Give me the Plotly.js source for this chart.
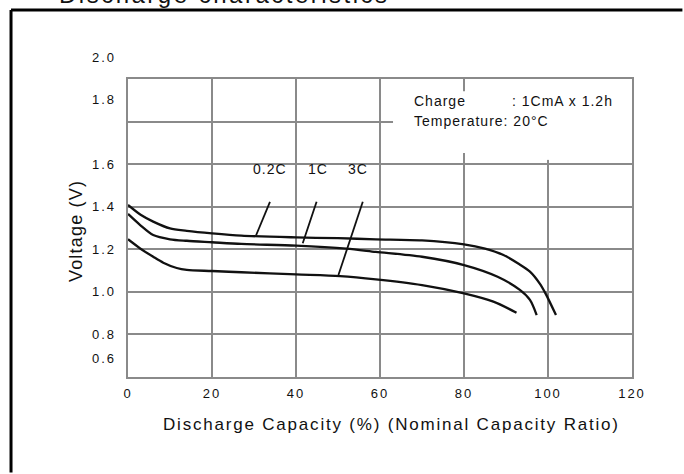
<!DOCTYPE html>
<html>
<head>
<meta charset="utf-8">
<script src="https://cdn.plot.ly/plotly-3.0.1.min.js"></script>
<style>
  html, body { margin: 0; padding: 0; background: #fff; overflow: hidden; }
  #chart { width: 684px; height: 474px; }
  text[style*="font-size: 24px"] { letter-spacing: 2.5px; }
  text[style*="font-size: 13px"] { letter-spacing: 2px; }
  text[style*="font-size: 14px"] { letter-spacing: 1px; }
  text[style*="font-size: 17px"] { letter-spacing: 1.8px; }
  text[style*="font-size: 18px"] { letter-spacing: 1.2px; }
</style>
</head>
<body>
<div id="chart"></div>
<script>
// ---- data ----
const capacity02C = [0, 3, 6, 10, 14, 20, 27, 40, 50, 59, 70, 80, 85, 89.4, 93, 95.7, 98, 99.4, 101.9];
const voltage02C  = [1.408, 1.362, 1.330, 1.298, 1.287, 1.275, 1.264, 1.256, 1.252, 1.247, 1.242, 1.223, 1.203, 1.173, 1.132, 1.095, 1.040, 0.993, 0.891];

const capacity1C = [0, 2.9, 6, 10, 14, 20, 27, 40, 52, 59, 70, 80, 88, 93.3, 95.7, 97.3];
const voltage1C  = [1.366, 1.314, 1.267, 1.247, 1.240, 1.233, 1.225, 1.217, 1.203, 1.188, 1.165, 1.126, 1.071, 1.009, 0.962, 0.891];

const capacity3C = [0, 2.9, 6, 8.4, 11.6, 14, 20, 27, 40, 50.5, 59, 70, 80, 87, 92.5];
const voltage3C  = [1.247, 1.204, 1.165, 1.137, 1.112, 1.103, 1.098, 1.092, 1.082, 1.074, 1.059, 1.032, 0.993, 0.954, 0.902];

const seriesNames = ['0.2C', '1C', '3C'];
// leader lines: [capacity at curve, capacity at label], [voltage at curve, voltage at label]
const leaderCapacity = [[30.5, 33.8], [41.6, 44.9], [50.1, 55.9]];
const leaderVoltage  = [[1.266, 1.423], [1.228, 1.423], [1.079, 1.423]];
const labelCapacity  = [33.8, 45.3, 54.8];
const labelVoltage   = 1.577;

const xTickValues = [0, 20, 40, 60, 80, 100, 120];
const xTickLabels = ['0', '20', '40', '60', '80', '100', '120'];
const yTickValues = [2.0, 1.8, 1.6, 1.4, 1.2, 1.0, 0.8, 0.6];
const yTickLabels = ['2.0', '1.8', '1.6', '1.4', '1.2', '1.0', '0.8', '0.6'];

const chartTitle  = 'Discharge characteristics';
const xTitle      = 'Discharge Capacity (%) (Nominal Capacity Ratio)';
const yTitle      = 'Voltage (V)';
const noteLabels  = ['Charge', ': 1CmA x 1.2h', 'Temperature: 20°C'];

// ---- styles / layout helpers ----
const FONT = 'Liberation Sans, Arial, sans-serif';
const GRID = '#8a8a8a';
const INK = '#111111';
// pixel nudges of the scanned y tick labels (layout quirk of the source)
const yTickShiftPx = [22, 22, 0, 0, 0, 0, 0, 19];

const curveX = [capacity02C, capacity1C, capacity3C];
const curveY = [voltage02C, voltage1C, voltage3C];

const traces = [];
for (let i = 0; i < 3; i++) {
  traces.push({
    type: 'scatter', mode: 'lines', name: seriesNames[i],
    x: curveX[i], y: curveY[i],
    line: { color: INK, width: 2.3, shape: 'spline', smoothing: 0.8 },
    hoverinfo: 'skip', showlegend: false
  });
}
for (let i = 0; i < 3; i++) {
  traces.push({
    type: 'scatter', mode: 'lines',
    x: leaderCapacity[i], y: leaderVoltage[i],
    line: { color: INK, width: 1.8 },
    hoverinfo: 'skip', showlegend: false
  });
}

const annotations = [];
// curve labels
for (let i = 0; i < 3; i++) {
  annotations.push({
    xref: 'x', yref: 'y', x: labelCapacity[i], y: labelVoltage,
    text: seriesNames[i], showarrow: false, xanchor: 'center', yanchor: 'middle',
    font: { family: FONT, size: 14, color: INK }
  });
}
// y tick labels (drawn through the y scale)
for (let i = 0; i < yTickValues.length; i++) {
  annotations.push({
    xref: 'paper', yref: 'y', x: -0.02, y: yTickValues[i], yshift: yTickShiftPx[i],
    text: yTickLabels[i], showarrow: false, xanchor: 'right', yanchor: 'middle',
    font: { family: FONT, size: 13, color: INK }
  });
}
// note box text
annotations.push({ xref: 'x', yref: 'y', x: 67.5, y: 1.896, text: noteLabels[0], showarrow: false,
  xanchor: 'left', yanchor: 'middle', font: { family: FONT, size: 14, color: INK } });
annotations.push({ xref: 'x', yref: 'y', x: 91.0, y: 1.896, text: noteLabels[1], showarrow: false,
  xanchor: 'left', yanchor: 'middle', font: { family: FONT, size: 14, color: INK } });
annotations.push({ xref: 'x', yref: 'y', x: 67.5, y: 1.802, text: noteLabels[2], showarrow: false,
  xanchor: 'left', yanchor: 'middle', font: { family: FONT, size: 14, color: INK } });
// axis titles
annotations.push({ xref: 'paper', yref: 'paper', x: -0.103, y: 0.49, text: yTitle, showarrow: false,
  textangle: -90, xanchor: 'center', yanchor: 'middle', font: { family: FONT, size: 18, color: INK } });
annotations.push({ xref: 'paper', yref: 'paper', x: 0.522, y: -0.161, text: xTitle, showarrow: false,
  xanchor: 'center', yanchor: 'middle', font: { family: FONT, size: 17, color: INK } });
// page title (partially cut at top, as in the scan)
annotations.push({ xref: 'paper', yref: 'paper', x: -0.226, y: 1.2315, text: '•', showarrow: false,
  xanchor: 'center', yanchor: 'bottom', font: { family: FONT, size: 24, color: INK } });
annotations.push({ xref: 'paper', yref: 'paper', x: -0.141, y: 1.2315, text: chartTitle, showarrow: false,
  xanchor: 'left', yanchor: 'bottom', font: { family: FONT, size: 24, color: INK } });

const shapes = [
  // outer black frame of the scanned figure: only top and left edges are inside the page
  { type: 'line', xref: 'paper', yref: 'paper', x0: -0.2321, x1: 1.1, y0: 1.2315, y1: 1.2315,
    line: { color: '#000', width: 3 }, layer: 'above' },
  { type: 'line', xref: 'paper', yref: 'paper', x0: -0.2321, x1: -0.2321, y0: -0.3205, y1: 1.2315,
    line: { color: '#000', width: 3 }, layer: 'above' },
  // white note box hiding grid
  { type: 'rect', xref: 'x', yref: 'y', x0: 63.1, x1: 120, y0: 1.652, y1: 1.943,
    line: { width: 0 }, fillcolor: '#ffffff', layer: 'between' },
  { type: 'rect', xref: 'x', yref: 'y', x0: 98.6, x1: 101.0, y0: 1.62, y1: 2.0,
    line: { width: 0 }, fillcolor: '#ffffff', layer: 'between' }
];

const layout = {
  width: 684, height: 474,
  margin: { l: 128, r: 52, t: 79, b: 97 },
  paper_bgcolor: '#ffffff', plot_bgcolor: '#ffffff',
  showlegend: false,
  xaxis: {
    range: [0, 120], tickmode: 'array', tickvals: xTickValues, ticktext: xTickLabels,
    showgrid: true, gridcolor: GRID, gridwidth: 2, zeroline: false,
    showline: true, mirror: true, linecolor: GRID, linewidth: 2,
    ticks: '', ticklabelstandoff: 3,
    tickfont: { family: FONT, size: 13, color: INK },
    fixedrange: true
  },
  yaxis: {
    range: [0.6, 2.0], tickmode: 'array', tickvals: yTickValues,
    showticklabels: false,
    showgrid: true, gridcolor: GRID, gridwidth: 2, zeroline: false,
    showline: true, mirror: true, linecolor: GRID, linewidth: 2,
    ticks: '', fixedrange: true
  },
  annotations: annotations,
  shapes: shapes
};

Plotly.newPlot('chart', traces, layout, { staticPlot: true, displayModeBar: false });
</script>
</body>
</html>
